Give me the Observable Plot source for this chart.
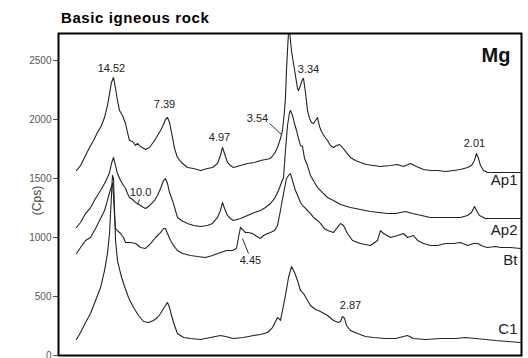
<!DOCTYPE html>
<html>
<head>
<meta charset="utf-8">
<script src="https://cdn.jsdelivr.net/npm/d3@7"></script>
<script src="https://cdn.jsdelivr.net/npm/@observablehq/plot@0.6"></script>
<style>
  html, body { margin: 0; padding: 0; background: #fff; }
  #wrap { position: relative; width: 528px; height: 358px; }
  #title { position: absolute; left: 61px; top: 9px; font: bold 15px "Liberation Sans", Arial, sans-serif; letter-spacing: 0.6px; color: #000; white-space: nowrap; }
</style>
</head>
<body>
<div id="wrap">
  <div id="chart"></div>
  <div id="title">Basic igneous rock</div>
</div>
<script>
// 2θ (deg) vs intensity (Cps)
const ap1 = [[1.94,1568],[2.38,1610],[2.92,1695],[3.35,1763],[3.78,1822],[4.21,1890],[4.64,1949],[4.97,2017],[5.29,2119],[5.51,2220],[5.72,2314],[5.94,2356],[6.16,2263],[6.37,2161],[6.59,2076],[6.91,2034],[7.24,1966],[7.45,1890],[7.67,1822],[7.99,1814],[8.32,1780],[8.53,1797],[8.86,1771],[9.4,1746],[9.83,1763],[10.37,1822],[10.69,1865],[11.02,1907],[11.34,1958],[11.55,2000],[11.77,2017],[11.99,1975],[12.31,1848],[12.53,1754],[12.85,1678],[13.28,1636],[13.93,1593],[14.58,1585],[15.33,1568],[16.09,1585],[16.63,1593],[17.17,1627],[17.49,1695],[17.71,1763],[17.93,1712],[18.25,1636],[18.57,1610],[18.9,1593],[19.65,1610],[20.41,1627],[21.17,1636],[21.81,1653],[22.35,1661],[22.89,1670],[23.33,1712],[23.65,1763],[23.97,1839],[24.19,1907],[24.41,2076],[24.51,2187],[24.62,2415],[24.73,2585],[24.88,2800],[25.05,2670],[25.16,2585],[25.38,2475],[25.59,2373],[25.81,2263],[25.92,2246],[26.13,2288],[26.35,2339],[26.46,2348],[26.67,2229],[26.89,2076],[27.11,2009],[27.32,1975],[27.54,1966],[27.75,1992],[27.97,2017],[28.19,1941],[28.4,1898],[28.73,1856],[29.05,1822],[29.37,1780],[29.7,1763],[30.02,1780],[30.35,1788],[30.67,1763],[31.1,1720],[31.53,1678],[32.07,1653],[32.61,1636],[33.26,1619],[34.02,1610],[34.77,1602],[35.85,1610],[36.61,1619],[37.26,1602],[38.01,1627],[38.66,1602],[39.42,1576],[40.17,1568],[40.93,1568],[41.79,1559],[42.66,1568],[43.41,1576],[44.17,1593],[44.6,1610],[44.92,1653],[45.14,1712],[45.36,1670],[45.57,1610],[45.9,1568],[46.33,1551],[47.19,1551],[48.06,1551],[48.81,1551],[49.89,1551]];

const ap2 = [[1.94,1085],[2.38,1127],[2.92,1203],[3.46,1254],[4.0,1331],[4.54,1398],[4.97,1458],[5.29,1509],[5.51,1551],[5.72,1627],[5.94,1678],[6.16,1610],[6.37,1542],[6.7,1483],[7.02,1441],[7.24,1415],[7.45,1373],[7.67,1339],[7.99,1322],[8.32,1297],[8.53,1288],[8.86,1271],[9.18,1254],[9.4,1246],[9.72,1263],[10.04,1288],[10.37,1314],[10.69,1356],[11.02,1415],[11.34,1483],[11.55,1500],[11.77,1458],[11.99,1381],[12.31,1314],[12.63,1229],[12.85,1170],[13.28,1144],[13.93,1119],[14.58,1102],[15.33,1093],[16.09,1102],[16.63,1119],[17.17,1170],[17.49,1229],[17.71,1297],[17.93,1246],[18.25,1187],[18.57,1161],[18.9,1144],[19.65,1161],[20.41,1187],[21.17,1212],[21.81,1229],[22.35,1254],[22.89,1288],[23.33,1331],[23.76,1398],[24.08,1466],[24.3,1509],[24.51,1737],[24.73,1949],[24.95,2059],[25.05,2076],[25.27,2034],[25.49,1966],[25.7,1907],[25.92,1839],[26.13,1780],[26.35,1771],[26.57,1670],[26.89,1610],[27.21,1526],[27.65,1466],[27.97,1424],[28.51,1381],[29.05,1339],[29.7,1314],[30.45,1280],[31.53,1254],[32.61,1237],[33.69,1220],[35.53,1203],[36.39,1203],[37.47,1220],[38.23,1203],[40.17,1170],[41.79,1170],[43.41,1170],[44.17,1187],[44.6,1212],[44.92,1263],[45.14,1229],[45.46,1187],[46.11,1161],[47.73,1161],[49.89,1161]];

const bt = [[1.94,864],[2.38,915],[2.92,975],[3.46,1000],[4.0,1076],[4.54,1161],[4.97,1229],[5.29,1314],[5.51,1381],[5.72,1432],[5.83,1458],[5.94,1356],[6.05,1187],[6.16,1076],[6.37,1059],[6.7,1034],[7.02,1000],[7.24,958],[7.78,958],[8.32,949],[8.86,915],[9.4,907],[9.94,949],[10.48,1000],[11.02,1042],[11.34,1076],[11.55,1076],[11.77,1034],[12.1,975],[12.42,932],[12.85,890],[13.39,864],[14.25,848],[15.01,839],[15.87,831],[16.63,848],[17.49,873],[18.14,890],[18.79,890],[19.22,907],[19.44,1000],[19.65,1085],[19.87,1068],[20.19,1042],[20.52,1042],[20.95,1034],[21.27,1017],[21.6,1000],[21.81,992],[22.14,1017],[22.57,1034],[22.89,1042],[23.33,1059],[23.65,1102],[23.97,1229],[24.3,1373],[24.62,1500],[24.84,1526],[25.05,1542],[25.27,1483],[25.59,1398],[25.92,1339],[26.13,1297],[26.46,1263],[26.89,1229],[27.21,1203],[27.54,1170],[27.97,1144],[28.29,1119],[28.73,1076],[29.05,1059],[29.7,1042],[30.02,1076],[30.45,1119],[30.78,1102],[31.21,1034],[31.75,975],[32.61,949],[33.69,932],[34.45,975],[34.77,1059],[35.1,1034],[35.85,1000],[36.61,1017],[37.26,1034],[37.69,1000],[38.34,1017],[38.77,975],[39.42,949],[40.17,932],[40.93,932],[41.79,949],[42.66,949],[43.41,958],[44.17,932],[44.82,949],[45.25,949],[45.9,924],[46.33,915],[47.19,924],[47.73,915],[48.81,915],[49.89,907]];

const c1 = [[1.94,136],[2.38,195],[2.92,280],[3.46,356],[4.0,466],[4.54,576],[4.97,720],[5.29,864],[5.51,1034],[5.62,1203],[5.72,1356],[5.83,1526],[5.94,1500],[6.05,1229],[6.16,975],[6.37,805],[6.7,695],[7.02,610],[7.56,492],[8.1,407],[8.64,339],[9.18,288],[9.72,280],[10.26,297],[10.69,322],[11.02,356],[11.34,398],[11.55,424],[11.77,449],[11.99,407],[12.2,339],[12.53,254],[12.85,186],[13.5,153],[14.25,144],[15.33,136],[16.41,153],[17.49,170],[18.03,161],[18.9,144],[19.98,153],[21.06,170],[21.81,178],[22.57,195],[23.11,237],[23.65,322],[23.97,297],[24.3,424],[24.51,509],[24.84,661],[25.16,754],[25.49,703],[25.81,636],[26.13,551],[26.46,525],[26.78,483],[27.21,424],[27.75,390],[28.29,373],[29.05,339],[29.7,297],[30.24,280],[30.45,288],[30.67,331],[30.89,314],[31.1,254],[31.53,212],[32.29,186],[33.15,161],[34.02,153],[35.31,144],[36.39,144],[37.26,161],[37.69,170],[38.34,144],[39.63,136],[41.25,144],[42.87,144],[43.95,153],[45.03,144],[46.11,136],[47.19,127],[48.49,119],[49.89,110]];

const yTicks = [0, 500, 1000, 1500, 2000, 2500];

const peakLabels = [
  {text: "14.52", x: 5.72, y: 2432},
  {text: "7.39", x: 11.45, y: 2127},
  {text: "3.54", x: 21.49, y: 2009},
  {text: "3.34", x: 27.0, y: 2424},
  {text: "4.97", x: 17.39, y: 1848},
  {text: "2.01", x: 44.92, y: 1797},
  {text: "10.0", x: 8.86, y: 1381},
  {text: "4.45", x: 20.73, y: 805},
  {text: "2.87", x: 31.53, y: 424}
];

const leaders = [
  {x1: 22.79, y1: 1966, x2: 24.08, y2: 1873},
  {x1: 20.52, y1: 864, x2: 19.87, y2: 992},
  {x1: 8.75, y1: 1322, x2: 8.53, y2: 1280}
];

const seriesLabels = [
  {text: "Ap1", x: 49.57, y: 1483},
  {text: "Ap2", x: 49.57, y: 1059},
  {text: "Bt", x: 49.57, y: 805},
  {text: "C1", x: 49.57, y: 220}
];

const panelLabel = [{text: "Mg", x: 48.81, y: 2542}];

const series = [ap1, ap2, bt, c1];

const chart = Plot.plot({
  width: 528,
  height: 358,
  marginLeft: 58,
  marginRight: 7,
  marginTop: 33,
  marginBottom: 3,
  style: {fontFamily: "'Liberation Sans', Arial, sans-serif", color: "#555", background: "#fff"},
  x: {domain: [0, 50], axis: null},
  y: {domain: [0, 2729], ticks: yTicks, tickSize: 5, tickPadding: 2, label: null, tickFormat: d => String(d)},
  marks: [
    ...series.map(s => Plot.line(s, {x: d => d[0], y: d => d[1], stroke: "#222", strokeWidth: 1.1, clip: true})),
    Plot.link(leaders, {x1: "x1", y1: "y1", x2: "x2", y2: "y2", stroke: "#333", strokeWidth: 1}),
    Plot.text(peakLabels, {x: "x", y: "y", text: "text", fontSize: 11, fill: "#222", textAnchor: "middle"}),
    Plot.text(seriesLabels, {x: "x", y: "y", text: "text", fontSize: 15, fill: "#222", textAnchor: "end"}),
    Plot.text(panelLabel, {x: "x", y: "y", text: "text", fontSize: 20, fontWeight: "bold", fill: "#111", textAnchor: "end"}),
    Plot.text(["(Cps)"], {frameAnchor: "left", textAnchor: "middle", lineAnchor: "middle", dx: -21, dy: 6, rotate: -90, fontSize: 12, fill: "#444"}),
    Plot.frame({stroke: "#000", strokeWidth: 2})
  ]
});
chart.querySelectorAll("g[aria-label='y-axis'] text").forEach(t => t.setAttribute("font-size", "9"));
document.getElementById("chart").appendChild(chart);
</script>
</body>
</html>
